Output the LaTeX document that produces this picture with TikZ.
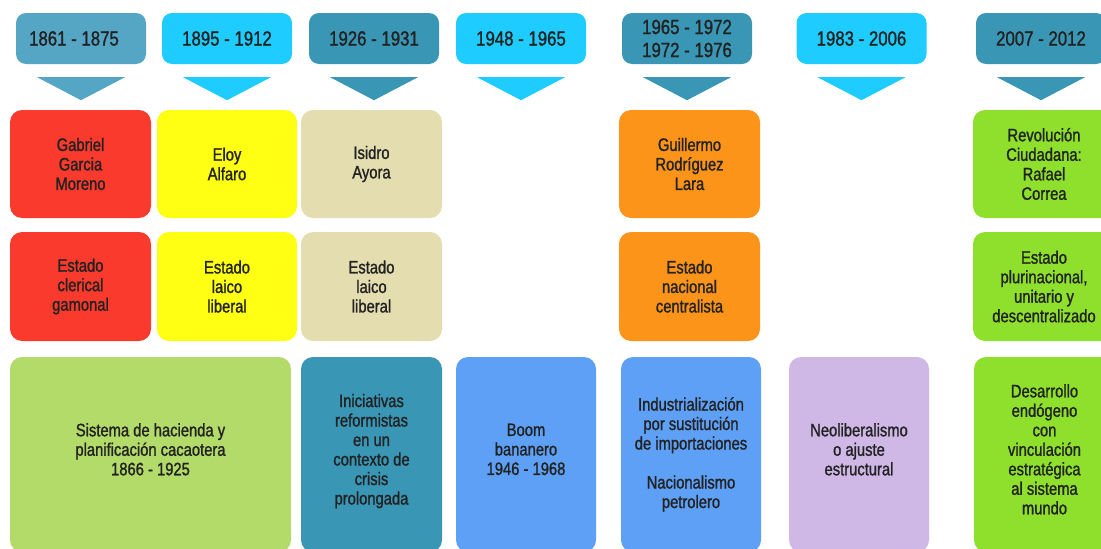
\documentclass[tikz,border=0pt]{standalone}
\usepackage{fontspec}
\setmainfont{Liberation Sans}[FakeStretch=0.82, FakeBold=1.2]
\usetikzlibrary{positioning}

\definecolor{hdrpale}{HTML}{55A5C5}
\definecolor{hdrcyan}{HTML}{1ECCFF}
\definecolor{hdrteal}{HTML}{3A96B5}
\definecolor{redbox}{HTML}{F93A2D}
\definecolor{yellowbox}{HTML}{FFFF14}
\definecolor{beigebox}{HTML}{E3DDAF}
\definecolor{orangebox}{HTML}{FB9418}
\definecolor{limebox}{HTML}{8EE02C}
\definecolor{olivebox}{HTML}{B3DB6A}
\definecolor{bluebox}{HTML}{5EA0F5}
\definecolor{lilacbox}{HTML}{CFB8E6}
\definecolor{inktext}{HTML}{222222}

\begin{document}
\begin{tikzpicture}[x=1pt, y=-1pt,
  period/.style={rounded corners=10pt, inner sep=0pt, minimum width=130pt, minimum height=51pt,
    align=center, text=inktext, font=\fontsize{20.5}{23}\selectfont},
  cell/.style={rounded corners=12pt, inner sep=0pt, minimum width=141pt, minimum height=108pt,
    align=center, text=inktext, font=\fontsize{18}{19.5}\selectfont},
  tall/.style={cell, minimum height=195pt}]

  \clip (0,0) rectangle (1101,549);
  \fill[white] (0,0) rectangle (1101,549);

  \node[period, fill=hdrpale] (p1) at (81,38.5) {1861 - 1875\hspace*{14pt}};
  \node[period, fill=hdrcyan] (p2) at (227,38.5) {1895 - 1912};
  \node[period, fill=hdrteal] (p3) at (374,38.5) {1926 - 1931};
  \node[period, fill=hdrcyan] (p4) at (521,38.5) {1948 - 1965};
  \node[period, fill=hdrteal] (p5) at (687,38.5) {1965 - 1972\\1972 - 1976};
  \node[period, fill=hdrcyan] (p6) at (861.5,38.5) {1983 - 2006};
  \node[period, fill=hdrteal] (p7) at (1041,38.5) {2007 - 2012};

  \foreach \p/\c in {p1/hdrpale, p2/hdrcyan, p3/hdrteal, p4/hdrcyan, p5/hdrteal, p6/hdrcyan, p7/hdrteal}
    \fill[\c] ([xshift=-44pt, yshift=-13pt]\p.south) -- ([xshift=44pt, yshift=-13pt]\p.south)
      -- ([yshift=-36pt]\p.south) -- cycle;

  \node[cell, fill=redbox] (leader1) at (80.5,164) {Gabriel\\Garcia\\Moreno};
  \node[cell, fill=yellowbox, minimum width=140pt] (leader2) at (227,164) {Eloy\\Alfaro};
  \node[cell, fill=beigebox] (leader3) at (371.5,164) {Isidro\\Ayora};
  \node[cell, fill=orangebox] (leader5) at (689.5,164) {Guillermo\\Rodríguez\\Lara};
  \node[cell, fill=limebox, minimum width=142pt] (leader7) at (1044,164) {Revolución\\Ciudadana:\\Rafael\\Correa};

  \node[cell, fill=redbox, minimum height=109pt] (state1) at (80.5,286.5) {Estado\\clerical\\gamonal};
  \node[cell, fill=yellowbox, minimum width=140pt, minimum height=109pt] (state2) at (227,286.5) {Estado\\laico\\liberal};
  \node[cell, fill=beigebox, minimum height=109pt] (state3) at (371.5,286.5) {Estado\\laico\\liberal};
  \node[cell, fill=orangebox, minimum height=109pt] (state5) at (689.5,286.5) {Estado\\nacional\\centralista};
  \node[cell, fill=limebox, minimum width=142pt, minimum height=109pt] (state7) at (1044,286.5) {Estado\\plurinacional,\\unitario y\\descentralizado};

  \node[tall, fill=olivebox, minimum width=281pt] (model1) at (150.5,454.5) {Sistema de hacienda y\\planificación cacaotera\\1866 - 1925\\[-9pt]};
  \node[tall, fill=hdrteal] (model3) at (371.5,454.5) {Iniciativas\\reformistas\\en un\\contexto de\\crisis\\prolongada\\[-9pt]};
  \node[tall, fill=bluebox, minimum width=140pt] (model4) at (526,454.5) {Boom\\bananero\\1946 - 1968\\[-9pt]};
  \node[tall, fill=bluebox, minimum width=140pt] (model5) at (691,454.5) {Industrialización\\por sustitución\\de importaciones\\[19.5pt]Nacionalismo\\petrolero};
  \node[tall, fill=lilacbox, minimum width=140pt] (model6) at (859,454.5) {Neoliberalismo\\o ajuste\\estructural\\[-9pt]};
  \node[tall, fill=limebox] (model7) at (1044.5,454.5) {Desarrollo\\endógeno\\con\\vinculación\\estratégica\\al sistema\\mundo\\[-9pt]};
\end{tikzpicture}
\end{document}
